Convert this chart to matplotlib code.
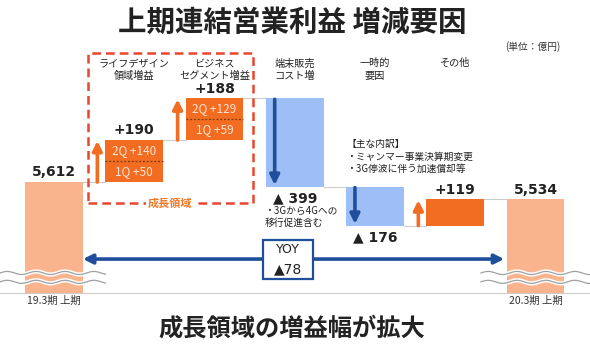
import numpy as np
import matplotlib.pyplot as plt
from matplotlib.patches import Rectangle

plt.rcParams['font.family'] = ['Noto Sans CJK JP', 'DejaVu Sans']

# data (億円)
categories = ['19.3期 上期', 'ライフデザイン\n領域増益', 'ビジネス\nセグメント増益',
              '端末販売\nコスト増', '一時的\n要因', 'その他', '20.3期 上期']
start_value = 5612
end_value = 5534
changes = [190, 188, -399, -176, 119]
q1 = [50, 59]
q2 = [140, 129]
yoy = -78
base = 5110  # broken axis base

# colours
c_total = '#F9B48E'
c_up = '#F26C22'
c_down = '#9DBEF6'
c_blue = '#1F4E9A'
c_red = '#E8472E'

fig = plt.figure(figsize=(5.9, 3.44), dpi=100)
ax = fig.add_axes([0, 0, 1, 1])
ax.set_xlim(-0.673, 6.679)
ax.set_ylim(4880, 6435)
ax.axis('off')

x = np.arange(len(categories))
w = 0.72

# waterfall levels
levels = [start_value]
for c in changes:
    levels.append(levels[-1] + c)
bottoms = [min(levels[i], levels[i + 1]) for i in range(len(changes))]
tops = [max(levels[i], levels[i + 1]) for i in range(len(changes))]

# baseline
ax.axhline(base, color='#CCCCCC', lw=0.8, zorder=0)

# total bars
ax.bar([x[0], x[-1]], [start_value - base, end_value - base], bottom=base,
       width=w, color=c_total, zorder=2)

# change bars
for i, c in enumerate(changes):
    col = c_up if c > 0 else c_down
    ax.bar(x[i + 1], tops[i] - bottoms[i], bottom=bottoms[i], width=w, color=col, zorder=2)

# connector lines
for i in range(len(levels)):
    ax.plot([x[i] + w / 2, x[i + 1] - w / 2], [levels[i], levels[i]],
            color='#CCCCCC', lw=0.8, zorder=1)

# quarter split for growth bars
for k in range(2):
    xi = x[k + 1]
    mid = (bottoms[k] + tops[k]) / 2
    ax.plot([xi - w / 2, xi + w / 2], [mid, mid], color='#7A3A10', lw=0.9,
            ls=(0, (1.5, 1.5)), zorder=3)
    ax.text(xi, (mid + tops[k]) / 2, f'2Q +{q2[k]}', color='#FFE3D0', fontsize=8.5,
            ha='center', va='center', zorder=4)
    ax.text(xi, (mid + bottoms[k]) / 2, f'1Q +{q1[k]}', color='#FFE3D0', fontsize=8.5,
            ha='center', va='center', zorder=4)

# arrows
for i, c in enumerate(changes):
    xi = x[i + 1]
    if c > 0:
        ax.annotate('', xy=(xi - 0.46, tops[i] - 4), xytext=(xi - 0.46, bottoms[i]),
                    arrowprops=dict(arrowstyle='-|>', color=c_up, lw=2.6,
                                    mutation_scale=14, shrinkA=0, shrinkB=0), zorder=5)
    else:
        ax.annotate('', xy=(xi - 0.25, bottoms[i] + 8), xytext=(xi - 0.25, tops[i] - 4),
                    arrowprops=dict(arrowstyle='-|>', color=c_blue, lw=2.6,
                                    mutation_scale=14, shrinkA=0, shrinkB=0), zorder=5)

# value labels
lab = dict(fontsize=10, fontweight='bold', color='#222222', ha='center',
           family=['DejaVu Sans'])
ax.annotate(f'{start_value:,}', (x[0], start_value), xytext=(0, 2),
            textcoords='offset points', va='bottom', **lab)
ax.annotate(f'{end_value:,}', (x[-1], end_value), xytext=(0, 2),
            textcoords='offset points', va='bottom', **lab)
for i, c in enumerate(changes):
    xi = x[i + 1]
    if c > 0:
        ax.annotate(f'+{c}', (xi, tops[i]), xytext=(0, 2),
                    textcoords='offset points', va='bottom', **lab)
    else:
        ax.annotate(f'▲ {-c}', (xi, bottoms[i]), xytext=(0, -3),
                    textcoords='offset points', va='top', **lab)

# category labels
for i in range(1, len(categories) - 1):
    ax.text(x[i], 6172, categories[i], fontsize=7.3, color='#222222', ha='center',
            va='top', linespacing=1.3)
for i in (0, len(categories) - 1):
    ax.text(x[i], base - 12, categories[i], fontsize=7.5, color='#333333',
            ha='center', va='top')

# growth area box
ax.add_patch(Rectangle((0.424, 5517), 2.056, 6195 - 5517, fill=False,
                       ec=c_red, lw=1.8, ls=(0, (3.5, 2)), zorder=6))
ax.text(1.45, 5517, '成長領域', fontsize=8, fontweight='bold', color='#EE7A2A',
        ha='center', va='center', zorder=7,
        bbox=dict(fc='white', ec='none', pad=1.5))

# notes
ax.text(2.62, 5505, '・3Gから4Gへの\n移行促進含む', fontsize=7, color='#222222',
        ha='left', va='top', linespacing=1.3)
ax.text(3.64, 5805, '【主な内訳】\n・ミャンマー事業決算期変更\n・3G停波に伴う加速償却等',
        fontsize=7, color='#222222', ha='left', va='top', linespacing=1.3)

# broken axis waves
t = np.linspace(0, 1, 200)
for x0, x1 in [(-0.673, 0.64), (5.32, 6.679)]:
    xs = x0 + (x1 - x0) * t
    for yb in (5201, 5161):
        ys = yb + 7 * np.sin((xs - x0) / 0.36 * 2 * np.pi)
        ax.plot(xs, ys, color='white', lw=3, zorder=3, solid_capstyle='butt')
        ax.plot(xs, ys, color='#A0A0A0', lw=0.9, zorder=4)

# YOY arrow and box
yy = 5264
ax.annotate('', xy=(0.36, yy), xytext=(5.61, yy),
            arrowprops=dict(arrowstyle='<|-|>', color=c_blue, lw=2.6,
                            mutation_scale=14, shrinkA=0, shrinkB=0), zorder=5)
ax.add_patch(Rectangle((2.604, 5174), 0.623, 5350 - 5174, fc='white', ec=c_blue,
                       lw=1.6, zorder=6))
ax.text(2.915, 5307, 'YOY', fontsize=9, color='#222222', ha='center', va='center',
        family=['DejaVu Sans'], zorder=7)
ax.text(2.915, 5219, f'▲{-yoy}', fontsize=10, color='#222222', ha='center',
        va='center', family=['DejaVu Sans'], zorder=7)

# titles
fig.text(0.495, 1 - 23 / 344, '上期連結営業利益 増減要因', fontsize=20.5,
         fontweight='bold', color='#222222', ha='center', va='center')
fig.text(0.903, 1 - 47 / 344, '(単位：億円)', fontsize=7, color='#333333',
         ha='center', va='center')
fig.text(0.495, 1 - 329 / 344, '成長領域の増益幅が拡大', fontsize=17.5,
         fontweight='bold', color='#222222', ha='center', va='center')

fig.savefig('out.png', dpi=100, facecolor='white')
